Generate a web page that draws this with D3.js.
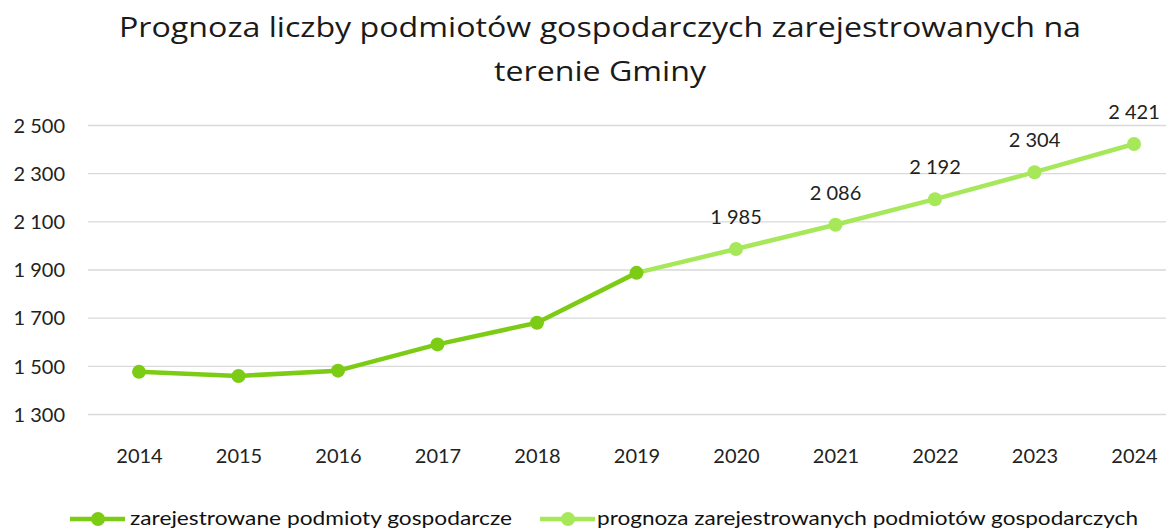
<!DOCTYPE html>
<html><head><meta charset="utf-8">
<script src="https://cdn.jsdelivr.net/npm/d3@7"></script>
<style>body{margin:0;background:#fff}svg{display:block}</style>
</head><body>
<svg id="c" width="1166" height="529"></svg>
<script>
const years = ["2014","2015","2016","2017","2018","2019","2020","2021","2022","2023","2024"];
const registered = [1475, 1458, 1480, 1589, 1679, 1886, null, null, null, null, null];
const forecast = [null, null, null, null, null, 1886, 1985, 2086, 2192, 2304, 2421];
const forecastLabels = ["", "", "", "", "", "", "1 985", "2 086", "2 192", "2 304", "2 421"];
const yTicks = [1300, 1500, 1700, 1900, 2100, 2300, 2500];
const seriesNames = ["zarejestrowane podmioty gospodarcze", "prognoza zarejestrowanych podmiotów gospodarczych"];
const colors = ["#7ccc16", "#a6e85a"];

const svg = d3.select("#c");
const font = "Lato, 'Open Sans', sans-serif";
const fmt = v => d3.format(",")(v).replace(/,/g, " ");

const x = d3.scalePoint().domain(years).range([139, 1134]);
const y = d3.scaleLinear().domain([1300, 2500]).range([414, 125]);

// title
svg.append("text").attr("x", 600).attr("y", 37).attr("text-anchor", "middle")
  .attr("font-family", "'Open Sans', sans-serif").attr("font-size", 27).attr("fill", "#1a1a1a")
  .attr("textLength", 962).attr("lengthAdjust", "spacingAndGlyphs")
  .text("Prognoza liczby podmiotów gospodarczych zarejestrowanych na");
svg.append("text").attr("x", 600).attr("y", 81).attr("text-anchor", "middle")
  .attr("font-family", "'Open Sans', sans-serif").attr("font-size", 27).attr("fill", "#1a1a1a")
  .attr("textLength", 212).attr("lengthAdjust", "spacingAndGlyphs")
  .text("terenie Gminy");

// grid
const yAxis = d3.axisLeft(y).tickValues(yTicks).tickSize(-1080).tickFormat(fmt).tickPadding(23);
const gy = svg.append("g").attr("transform", "translate(88,0)").call(yAxis);
gy.select(".domain").remove();
gy.selectAll(".tick line").attr("stroke", "#d9d9d9").attr("stroke-width", 1.3);
gy.selectAll(".tick text").attr("font-family", font).attr("font-size", 20).attr("fill", "#222").attr("dy", "0.36em");

// x axis labels
const xAxis = d3.axisBottom(x).tickSize(0).tickPadding(0);
const gx = svg.append("g").attr("transform", "translate(0,463)").call(xAxis);
gx.select(".domain").remove();
gx.selectAll(".tick text").attr("font-family", font).attr("font-size", 20).attr("fill", "#222").attr("dy", "0").attr("y", 0);

const line = d3.line().defined(d => d.v != null).x(d => x(d.k)).y(d => y(d.v));
const fData = years.map((k, i) => ({k, v: forecast[i], lab: forecastLabels[i]}));
const rData = years.map((k, i) => ({k, v: registered[i]}));

svg.append("path").datum(fData).attr("d", line).attr("fill", "none")
  .attr("stroke", colors[1]).attr("stroke-width", 4.5).attr("stroke-linejoin", "round");
svg.append("path").datum(rData).attr("d", line).attr("fill", "none")
  .attr("stroke", colors[0]).attr("stroke-width", 4.5).attr("stroke-linejoin", "round");

svg.selectAll(".fp").data(fData.filter(d => d.v != null && d.lab)).enter().append("circle")
  .attr("cx", d => x(d.k)).attr("cy", d => y(d.v)).attr("r", 7).attr("fill", colors[1]);
svg.selectAll(".rp").data(rData.filter(d => d.v != null)).enter().append("circle")
  .attr("cx", d => x(d.k)).attr("cy", d => y(d.v)).attr("r", 7).attr("fill", colors[0]);

svg.selectAll(".lab").data(fData.filter(d => d.lab)).enter().append("text")
  .attr("x", d => x(d.k)).attr("y", d => y(d.v) - 25).attr("text-anchor", "middle")
  .attr("font-family", font).attr("font-size", 20).attr("fill", "#222").text(d => d.lab);

// legend
const leg = [{x0: 70, tx: 130, w: 382}, {x0: 540, tx: 597, w: 541}];
leg.forEach((l, i) => {
  svg.append("line").attr("x1", l.x0).attr("x2", l.x0 + 55).attr("y1", 519).attr("y2", 519)
    .attr("stroke", colors[i]).attr("stroke-width", 4.5);
  svg.append("circle").attr("cx", l.x0 + 28).attr("cy", 519).attr("r", 7).attr("fill", colors[i]);
  svg.append("text").attr("x", l.tx).attr("y", 525).attr("font-family", font).attr("font-size", 19)
    .attr("fill", "#111").attr("textLength", l.w).attr("lengthAdjust", "spacingAndGlyphs").text(seriesNames[i]);
});
</script>
</body></html>
